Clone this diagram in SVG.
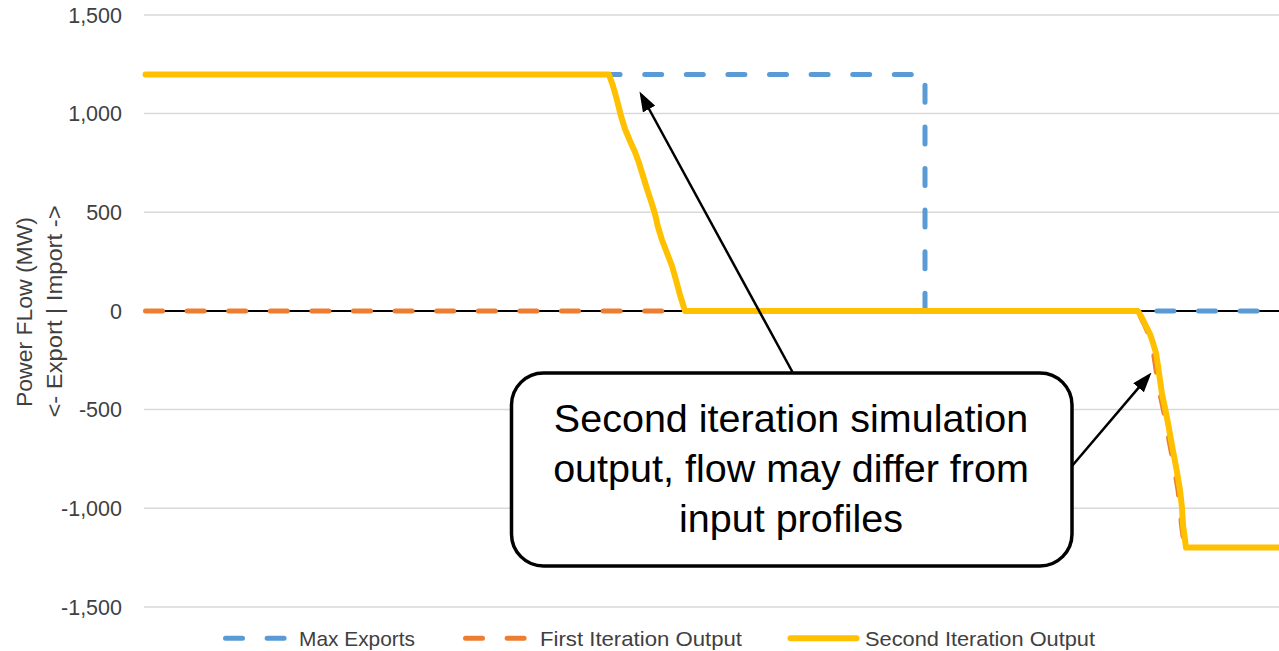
<svg xmlns="http://www.w3.org/2000/svg" width="1279" height="651" viewBox="0 0 1279 651">
<style>
  .grid { stroke: #d9d9d9; stroke-width: 1.5; fill: none; }
  .tick { font-family: "Liberation Sans", Arial, sans-serif; font-size: 21.5px; fill: #404040; text-anchor: end; }
  .axt { font-family: "Liberation Sans", Arial, sans-serif; font-size: 21.5px; fill: #404040; text-anchor: middle; }
  .leg { font-family: "Liberation Sans", Arial, sans-serif; font-size: 21px; fill: #404040; }
  .blue { stroke: #5b9bd5; stroke-width: 5; fill: none; stroke-linecap: round; stroke-linejoin: round; stroke-dasharray: 17 24.6; }
  .orange { stroke: #ed7d31; stroke-width: 5; fill: none; stroke-linecap: round; stroke-linejoin: round; stroke-dasharray: 17 24.6; }
  .yellow { stroke: #ffc000; stroke-width: 6; fill: none; stroke-linecap: round; stroke-linejoin: round; }
  .callout { fill: #ffffff; stroke: #000000; stroke-width: 3.5; }
  .ctext { font-family: "Liberation Sans", Arial, sans-serif; font-size: 39.5px; fill: #000000; text-anchor: middle; }
  .conn { stroke: #000000; stroke-width: 2.5; fill: none; marker-end: url(#arrow); }
</style>
<defs>
  <marker id="arrow" viewBox="0 0 20 14" refX="16" refY="7" markerWidth="20" markerHeight="14" markerUnits="userSpaceOnUse" orient="auto">
    <path d="M0,0 L20,7 L0,14 z" fill="#000000"/>
  </marker>
</defs>
<rect x="0" y="0" width="1279" height="651" fill="#ffffff"/>

<g id="gridlines">
  <line class="grid" x1="144" y1="15" x2="1279" y2="15"/>
  <line class="grid" x1="144" y1="113.6" x2="1279" y2="113.6"/>
  <line class="grid" x1="144" y1="212.3" x2="1279" y2="212.3"/>
  <line class="grid" x1="144" y1="409.6" x2="1279" y2="409.6"/>
  <line class="grid" x1="144" y1="508.3" x2="1279" y2="508.3"/>
  <line class="grid" x1="144" y1="606.9" x2="1279" y2="606.9"/>
</g>

<g id="y-ticks">
  <text class="tick" x="122" y="22.7">1,500</text>
  <text class="tick" x="122" y="121.3">1,000</text>
  <text class="tick" x="122" y="220">500</text>
  <text class="tick" x="122" y="318.7">0</text>
  <text class="tick" x="122" y="417.3">-500</text>
  <text class="tick" x="122" y="516">-1,000</text>
  <text class="tick" x="122" y="614.6">-1,500</text>
</g>

<g id="y-title">
  <text class="axt" transform="translate(31.5,312) rotate(-90)" textLength="190" lengthAdjust="spacingAndGlyphs">Power FLow (MW)</text>
  <text class="axt" transform="translate(62,311.5) rotate(-90)" textLength="212" lengthAdjust="spacingAndGlyphs">&lt;- Export | Import -&gt;</text>
</g>

<line id="zero-axis" x1="144" y1="311" x2="1279" y2="311" stroke="#000000" stroke-width="1.8"/>

<g id="series">
  <path id="max-exports" class="blue" d="M145.5,74.4 L925,74.4 L925,311 L1279,311"/>
  <path id="first-iteration" class="orange" d="M145.5,311 L1138,311 L1141,318 L1145,326 L1148.5,334 L1151,343 L1153.5,353 L1155.5,366 L1157.5,380 L1160,394 L1163,408 L1166,423 L1169,440 L1172,456 L1175,472 L1178,490 L1180,508 L1181.5,525 L1183.5,540 L1185,547.6 L1279,547.6"/>
  <path id="second-iteration" class="yellow" d="M145.5,74.4 L609,74.4 L613,86 L617,100 L621,116 L625,129 L630,141 L635,152 L639,163 L643,176 L647,189 L651,201 L655,214 L658,227 L662,240 L667,253 L672,266 L676,280 L680,295 L685,311 L1138,311 L1142,318 L1146,326 L1150,334 L1153,343 L1156,353 L1158,366 L1160,380 L1162,394 L1165,408 L1168,423 L1171,440 L1174,456 L1177,472 L1180,490 L1182,508 L1183,525 L1185,540 L1186,547.6 L1279,547.6"/>
</g>

<g id="legend">
  <line class="blue" x1="225.5" y1="638.3" x2="284.5" y2="638.3"/>
  <text class="leg" x="299" y="646" textLength="116" lengthAdjust="spacingAndGlyphs">Max Exports</text>
  <line class="orange" x1="465.5" y1="638.3" x2="525.5" y2="638.3"/>
  <text class="leg" x="540" y="646" textLength="202" lengthAdjust="spacingAndGlyphs">First Iteration Output</text>
  <line class="yellow" x1="790.5" y1="638.3" x2="856.5" y2="638.3"/>
  <text class="leg" x="865" y="646" textLength="230" lengthAdjust="spacingAndGlyphs">Second Iteration Output</text>
</g>

<g id="callout-node">
  <rect class="callout" x="511.5" y="373" width="560.5" height="193" rx="32" ry="32"/>
  <text class="ctext" x="791" y="432">Second iteration simulation</text>
  <text class="ctext" x="791" y="482">output, flow may differ from</text>
  <text class="ctext" x="791" y="532">input profiles</text>
</g>

<g id="connectors">
  <line class="conn" x1="793" y1="373" x2="641.4" y2="95"/>
  <line class="conn" x1="1072" y1="466" x2="1148.9" y2="375.6"/>
</g>
</svg>
